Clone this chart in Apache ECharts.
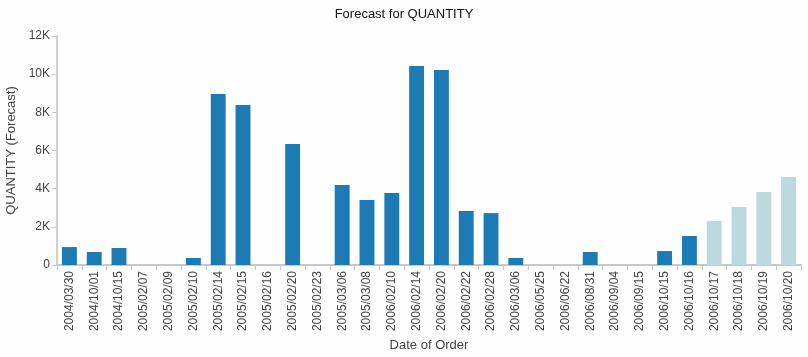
<!DOCTYPE html>
<html>
<head>
<meta charset="utf-8">
<script src="https://cdn.jsdelivr.net/npm/echarts@6/dist/echarts.min.js"></script>
<style>html,body{margin:0;padding:0;background:#fdfefd;}#c{width:808px;height:357px;}</style>
</head>
<body>
<div id="c"></div>
<script>
const categories = ["2004/03/30","2004/10/01","2004/10/15","2005/02/07","2005/02/09","2005/02/10","2005/02/14","2005/02/15","2005/02/16","2005/02/20","2005/02/23","2005/03/06","2005/03/08","2006/02/10","2006/02/14","2006/02/20","2006/02/22","2006/02/28","2006/03/06","2006/05/25","2006/06/22","2006/08/31","2006/09/04","2006/09/15","2006/10/15","2006/10/16","2006/10/17","2006/10/18","2006/10/19","2006/10/20"];
const actualValues = [940,680,890,0,0,370,8960,8390,0,6340,0,4190,3410,3770,10430,10220,2830,2720,370,0,0,680,0,0,730,1520,null,null,null,null];
const forecastValues = [null,null,null,null,null,null,null,null,null,null,null,null,null,null,null,null,null,null,null,null,null,null,null,null,null,null,2310,3040,3830,4610];
const yTicks = [0,2000,4000,6000,8000,10000,12000];

const chart = echarts.init(document.getElementById('c'));
const font = '"Liberation Sans", Arial, sans-serif';
chart.setOption({
  animation: false,
  backgroundColor: '#fdfefd',
  title: {text: 'Forecast for QUANTITY', left: 'center', top: 3,
    textStyle: {fontFamily: font, fontSize: 13, fontWeight: 'normal', color: '#111'}},
  grid: {left: 57, right: 7, top: 36, bottom: 92, containLabel: false, outerBoundsMode: 'none'},
  xAxis: {
    type: 'category', data: categories,
    name: 'Date of Order', nameLocation: 'middle', nameGap: 69,
    nameTextStyle: {fontFamily: font, fontSize: 13, color: '#444'},
    axisLine: {lineStyle: {color: '#c8c8c8', width: 2}},
    axisTick: {show: true, alignWithLabel: false, length: 5, lineStyle: {color: '#c8c8c8'}},
    axisLabel: {rotate: 90, interval: 0, fontFamily: font, fontSize: 12, color: '#444', margin: 6}
  },
  yAxis: {
    type: 'value', min: 0, max: 12000, interval: 2000,
    name: 'QUANTITY (Forecast)', nameLocation: 'middle', nameGap: 37,
    nameTextStyle: {fontFamily: font, fontSize: 13, color: '#444'},
    axisLine: {show: true, lineStyle: {color: '#d0d0d0', width: 2}},
    axisTick: {show: true, length: 5, lineStyle: {color: '#c8c8c8'}},
    splitLine: {show: false},
    axisLabel: {fontFamily: font, fontSize: 12, color: '#444', margin: 7,
      formatter: v => yTicks.includes(v) ? (v === 0 ? '0' : (v/1000) + 'K') : ''}
  },
  series: [
    {type: 'bar', stack: 'q', data: actualValues, barWidth: '60%', itemStyle: {color: '#1c7ab5'}},
    {type: 'bar', stack: 'q', data: forecastValues, barWidth: '60%', itemStyle: {color: '#bcd9de'}}
  ]
});
</script>
</body>
</html>
